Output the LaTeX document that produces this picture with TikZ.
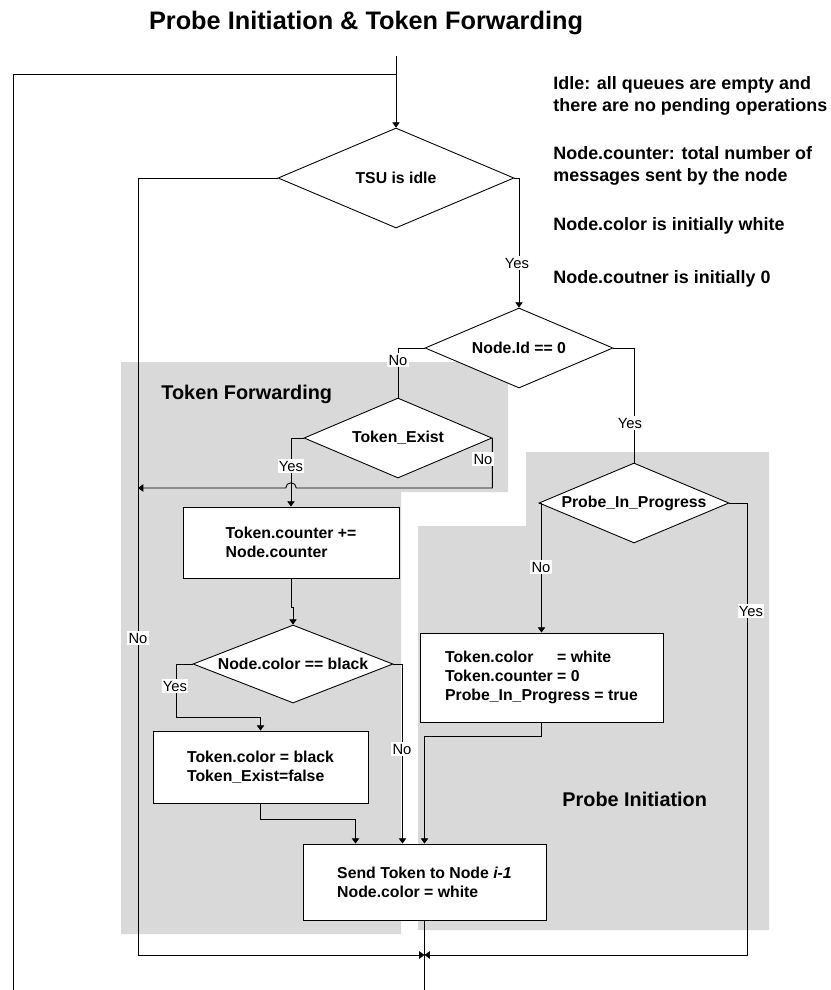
\documentclass[tikz,border=0pt]{standalone}
\usepackage{fontspec}
\setmainfont{Liberation Sans}
\usetikzlibrary{arrows.meta,shapes.geometric}
\definecolor{panelgray}{gray}{0.85}
\tikzset{
  decision/.style={diamond, draw, fill=white, aspect=2.4, inner sep=0pt,
    font=\fontsize{9}{10.8}\selectfont\bfseries},
  process/.style={rectangle, draw, fill=white, align=left,
    font=\fontsize{9}{10.8}\selectfont\bfseries},
  note/.style={anchor=west, align=left, inner sep=0pt,
    font=\fontsize{10.2}{12.2}\selectfont\bfseries},
  region/.style={anchor=west, inner sep=0pt,
    font=\fontsize{11.3}{13.5}\selectfont\bfseries},
  answer/.style={fill=white, inner sep=0.8pt, font=\fontsize{8.4}{9.5}\selectfont},
  flow/.style={-{Triangle[width=4.2pt,length=3pt]}},
}

\begin{document}
\begin{tikzpicture}[x=0.02cm, y=0.02cm, line width=0.5pt]
\useasboundingbox (0,0) rectangle (831,-990);
% shaded areas
\fill[panelgray] (121,-362) -- (508,-362) -- (508,-492) -- (401,-492)
  -- (401,-934) -- (121,-934) -- cycle;
\fill[panelgray] (526,-452) -- (769,-452) -- (769,-930) -- (418,-930)
  -- (418,-526) -- (526,-526) -- cycle;
\node[region] (fwd) at (161,-394) {Token Forwarding};
\node[region] (init) at (562,-799) {Probe Initiation};

\node[font=\fontsize{14.4}{17}\selectfont\bfseries] (title) at (366,-23)
  {Probe Initiation \& Token Forwarding};

% notes on the right
\node[note] (idle) at (553,-96) {Idle: all queues are empty and\\there are no pending operations};
\node[note] (cntnote) at (553,-166) {Node.counter: total number of\\messages sent by the node};
\node[note] (colnote) at (553,-226) {Node.color is initially white};
\node[note] (zeronote) at (553,-279) {Node.coutner is initially 0};

% decisions
\node[decision, minimum width=4.72cm, minimum height=2cm] (tsu) at (396,-178) {TSU is idle};
\node[decision, minimum width=3.76cm, minimum height=1.6cm] (nid) at (519,-348) {Node.Id == 0};
\node[decision, minimum width=3.76cm, minimum height=1.6cm] (tex) at (398,-438) {Token\_Exist};
\node[decision, minimum width=3.8cm, minimum height=1.6cm] (pip) at (634,-503) {Probe\_In\_Progress};
\node[decision, minimum width=4cm, minimum height=1.56cm] (ncol) at (293,-664) {Node.color == black};

% actions
\node[process, minimum width=4.32cm, minimum height=1.42cm] (cnt) at (291,-542.5)
  {Token.counter +=\\Node.counter};
\node[process, minimum width=4.3cm, minimum height=1.44cm] (blk) at (260.5,-767)
  {Token.color = black\\Token\_Exist=false};
\node[process, minimum width=4.86cm, minimum height=1.78cm] (wht) at (541.5,-677.5)
  {\rlap{Token.color}\phantom{Token.counter} = white\\Token.counter = 0\\Probe\_In\_Progress = true};
\node[process, minimum width=4.86cm, minimum height=1.52cm] (send) at (424.5,-882)
  {Send Token to Node \textit{i-1}\\Node.color = white};

\coordinate (entry) at (396,-56);
\coordinate (loop) at (13,-990);
\coordinate (loopjoin) at (396,-74);
\coordinate (noleft) at (138,-955);
\coordinate (tokjoin) at (138,-488);
\coordinate (hop) at (291,-488);
\coordinate (yesright) at (747,-955);
\coordinate (merge) at (424.5,-955);
\coordinate (exit) at (424.5,-990);

% draw the arrows
\draw[flow] (entry) -- (tsu.north);
\draw (loop) |- (loopjoin);
\draw[flow] (tsu.west) -| (noleft) -- (merge);
\draw[flow] (tsu.east) -| (nid.north);
\draw (nid.west) -| (tex.north);
\draw (nid.east) -| (pip.north);
\draw[flow] (tex.west) -| (cnt.north);
\draw[flow] (tex.east) |- ([xshift=3pt]hop) arc[start angle=0, end angle=180, radius=3pt] -- (tokjoin);
\draw[flow] (cnt.south) -- ++(0,-29) -| (ncol.north);
\draw[flow] (ncol.west) -- ++(-16,0) |- ([yshift=2.6mm]blk.north) -- (blk.north);
\draw[flow] (ncol.east) -| ([xshift=-4.4mm]send.north);
\draw[flow] (blk.south) -- ++(0,-16) -| ([xshift=-1.38cm]send.north);
\draw[flow] (wht.south) -- ++(0,-14) -| (send.north);
\draw[flow] (pip.west) -| (wht.north);
\draw[flow] (pip.east) -| (yesright) -- (merge);
\draw (send.south) -- (exit);

% branch labels
\node[answer] (tsuno) at (138,-638) {No};
\node[answer] (tsuyes) at (517,-263) {Yes};
\node[answer] (nidno) at (398,-360) {No};
\node[answer] (nidyes) at (630,-423) {Yes};
\node[answer] (texyes) at (291,-466) {Yes};
\node[answer] (texno) at (483,-459) {No};
\node[answer] (ncolyes) at (175,-686) {Yes};
\node[answer] (ncolno) at (402,-749) {No};
\node[answer] (pipno) at (541,-567) {No};
\node[answer] (pipyes) at (751,-611) {Yes};
\end{tikzpicture}
\end{document}
